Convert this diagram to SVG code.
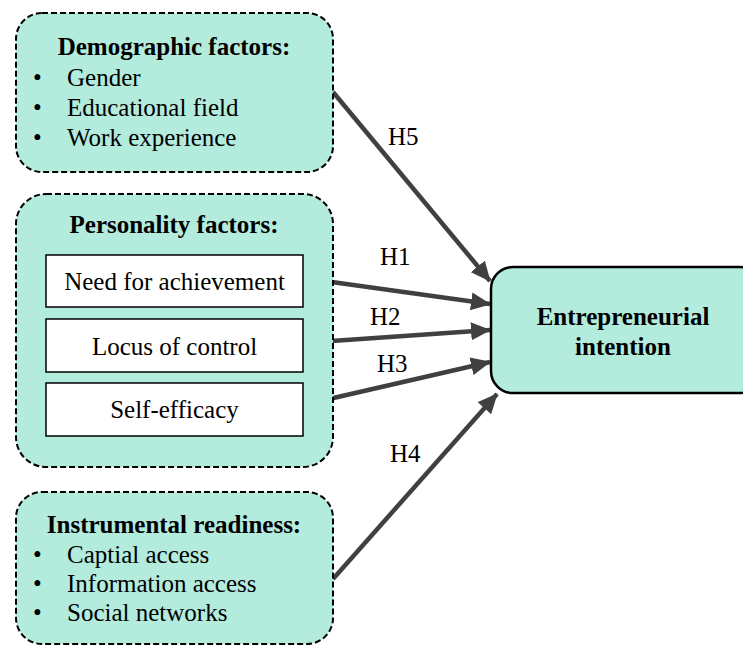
<svg xmlns="http://www.w3.org/2000/svg" width="743" height="646" viewBox="0 0 743 646">
  <style>
    .group { fill: #b3ebdd; stroke: #000; stroke-width: 2; stroke-dasharray: 6 3; }
    .item { fill: #fff; stroke: #000; stroke-width: 1.5; }
    .target { fill: #b3ebdd; stroke: #000; stroke-width: 2.5; }
    text { font-family: "Liberation Serif", "Times New Roman", serif; font-size: 25px; fill: #000; }
    .title { font-weight: bold; text-anchor: middle; }
    .center { text-anchor: middle; }
    .edge { stroke: #404040; stroke-width: 4.5; fill: none; marker-end: url(#arrow); }
  </style>
  <defs>
    <marker id="arrow" markerUnits="userSpaceOnUse" markerWidth="20" markerHeight="18" refX="19" refY="9" orient="auto">
      <path d="M0,0 L20,9 L0,18 Z" fill="#404040"/>
    </marker>
  </defs>

  <!-- Connectors -->
  <g id="connectors">
    <line class="edge" x1="333" y1="92" x2="490" y2="281"/>
    <line class="edge" x1="303" y1="278" x2="490" y2="304"/>
    <line class="edge" x1="303" y1="343" x2="490" y2="330"/>
    <line class="edge" x1="303" y1="405" x2="490" y2="362"/>
    <line class="edge" x1="333" y1="579" x2="497" y2="394"/>
    <text x="388" y="145">H5</text>
    <text x="380" y="265">H1</text>
    <text x="370" y="325">H2</text>
    <text x="377" y="372">H3</text>
    <text x="390" y="462">H4</text>
  </g>

  <!-- Demographic factors -->
  <g id="demographic">
    <rect class="group" x="16" y="13" width="317" height="159" rx="26"/>
    <text class="title" x="174" y="55">Demographic factors:</text>
    <text x="33" y="86">•</text><text x="67" y="86">Gender</text>
    <text x="33" y="116">•</text><text x="67" y="116">Educational field</text>
    <text x="33" y="146">•</text><text x="67" y="146">Work experience</text>
  </g>

  <!-- Personality factors -->
  <g id="personality">
    <rect class="group" x="16" y="194" width="317" height="273" rx="30"/>
    <text class="title" x="174" y="233">Personality factors:</text>
    <g id="need-for-achievement">
      <rect class="item" x="46" y="255" width="257" height="52"/>
      <text class="center" x="174.5" y="290">Need for achievement</text>
    </g>
    <g id="locus-of-control">
      <rect class="item" x="46" y="319" width="257" height="53"/>
      <text class="center" x="174.5" y="355">Locus of control</text>
    </g>
    <g id="self-efficacy">
      <rect class="item" x="46" y="383" width="257" height="53"/>
      <text class="center" x="174.5" y="418">Self-efficacy</text>
    </g>
  </g>

  <!-- Instrumental readiness -->
  <g id="instrumental">
    <rect class="group" x="16" y="492" width="317" height="152" rx="26"/>
    <text class="title" x="174" y="533">Instrumental readiness:</text>
    <text x="33" y="563">•</text><text x="67" y="563">Captial access</text>
    <text x="33" y="592">•</text><text x="67" y="592">Information access</text>
    <text x="33" y="621">•</text><text x="67" y="621">Social networks</text>
  </g>

  <!-- Outcome -->
  <g id="entrepreneurial-intention">
    <rect class="target" x="491" y="267" width="270" height="126" rx="22"/>
    <text class="title" x="623" y="325">Entrepreneurial</text>
    <text class="title" x="623" y="355">intention</text>
  </g>
</svg>
